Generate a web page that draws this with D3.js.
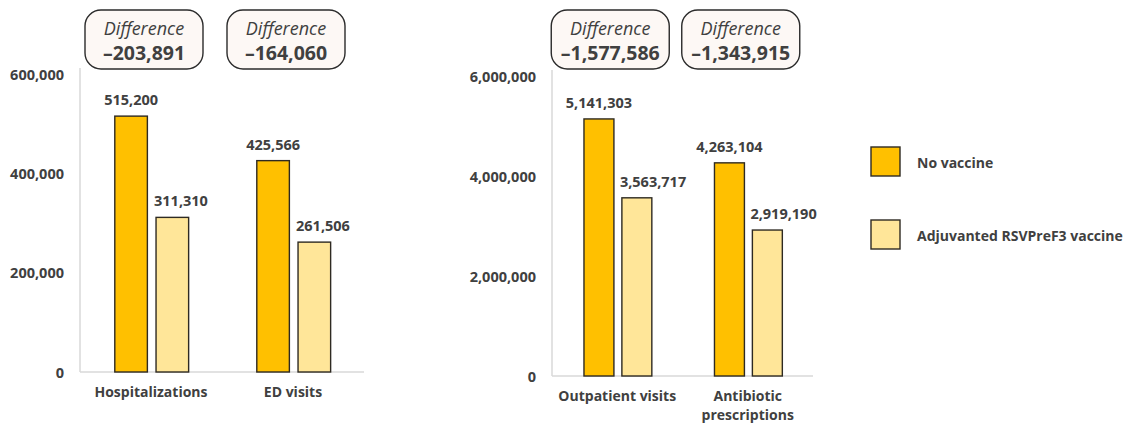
<!DOCTYPE html>
<html>
<head>
<meta charset="utf-8">
<script src="https://cdn.jsdelivr.net/npm/d3@7"></script>
<style>
  html, body { margin: 0; padding: 0; background: #ffffff; }
  svg { display: block; }
  text { font-family: "Open Sans", Lato, sans-serif; }
</style>
</head>
<body>
<svg id="chart" width="1126" height="426"></svg>
<script>
// ---- Data ----
const seriesNames = ["No vaccine", "Adjuvanted RSVPreF3 vaccine"];
const seriesColors = ["#FFC000", "#FFE699"];

const categoriesLeft = ["Hospitalizations", "ED visits"];
const noVaccineLeft = [515200, 425566];
const vaccineLeft = [311310, 261506];
const differenceLeft = [-203891, -164060];
const ticksLeft = [0, 200000, 400000, 600000];

const categoriesRight = ["Outpatient visits", "Antibiotic prescriptions"];
const noVaccineRight = [5141303, 4263104];
const vaccineRight = [3563717, 2919190];
const differenceRight = [-1577586, -1343915];
const ticksRight = [0, 2000000, 4000000, 6000000];

// ---- Drawing ----
const svg = d3.select("#chart");
const textColor = "#404040";
const fmt = d3.format(",");

function panel(opts) {
  const { categories, a, b, diffs, ticks, x0, x1, yTop, yBase, yMax, catLines } = opts;
  const g = svg.append("g");
  const x = d3.scaleBand().domain(categories).range([x0, x1]).paddingInner(0).paddingOuter(0);
  const y = d3.scaleLinear().domain([0, yMax]).range([yBase, yTop]);
  const step = x.bandwidth();
  const inner = d3.scaleBand().domain([0, 1])
    .range([step * 0.245, step * 0.765]).paddingInner(0.21).paddingOuter(0);

  // axis labels
  const axis = d3.axisLeft(y).tickValues(ticks).tickSize(0).tickPadding(16).tickFormat(fmt);
  const ag = g.append("g").attr("transform", `translate(${x0},0)`).call(axis);
  ag.select(".domain").remove();
  ag.selectAll("text")
    .attr("fill", textColor).attr("font-size", 14.5).attr("font-weight", 700)
    .attr("dy", "0.36em")
    .style("font-family", "'Open Sans', Lato, sans-serif");

  // axis lines
  g.append("line").attr("x1", x0).attr("x2", x0).attr("y1", y(yMax) - 6).attr("y2", yBase)
    .attr("stroke", "#d9d9d9").attr("stroke-width", 1.5);
  g.append("line").attr("x1", x0).attr("x2", x1).attr("y1", yBase).attr("y2", yBase)
    .attr("stroke", "#d9d9d9").attr("stroke-width", 1.5);

  const rows = categories.map((c, i) => ({ c, vals: [a[i], b[i]], diff: diffs[i] }));
  const grp = g.selectAll("g.cat").data(rows).join("g").attr("class", "cat")
    .attr("transform", d => `translate(${x(d.c)},0)`);

  grp.selectAll("rect").data(d => d.vals.map((v, k) => ({ v, k }))).join("rect")
    .attr("x", d => inner(d.k)).attr("width", inner.bandwidth())
    .attr("y", d => y(d.v)).attr("height", d => yBase - y(d.v))
    .attr("fill", d => seriesColors[d.k])
    .attr("stroke", "#2e2a22").attr("stroke-width", 1.4);

  grp.selectAll("text.val").data(d => d.vals.map((v, k) => ({ v, k }))).join("text")
    .attr("class", "val")
    .attr("x", d => d.k === 0 ? inner(d.k) + inner.bandwidth() / 2 : inner(d.k) - 2)
    .attr("y", d => y(d.v) - 11)
    .attr("text-anchor", d => d.k === 0 ? "middle" : "start")
    .attr("font-size", 14.5).attr("font-weight", 700).attr("fill", textColor)
    .text(d => fmt(d.v));

  // category labels
  grp.each(function(d) {
    const lines = catLines[d.c] || [d.c];
    const t = d3.select(this).append("text")
      .attr("text-anchor", "middle").attr("font-size", 14).attr("font-weight", 700)
      .attr("fill", textColor);
    lines.forEach((ln, i) => {
      t.append("tspan").attr("x", step / 2).attr("y", yBase + 25 + i * 19).text(ln);
    });
  });

  // difference boxes
  const bw = 118, bh = 59;
  const box = grp.append("g").attr("transform", `translate(${step / 2 - 7 - bw / 2},10)`);
  box.append("rect").attr("width", bw).attr("height", bh).attr("rx", 16).attr("ry", 16)
    .attr("fill", "#fdf8f5").attr("stroke", "#2b2b2b").attr("stroke-width", 1.4);
  box.append("text").attr("x", bw / 2).attr("y", 24.5).attr("text-anchor", "middle")
    .attr("font-size", 18).attr("font-style", "italic").attr("fill", textColor)
    .text("Difference");
  box.append("text").attr("x", bw / 2).attr("y", 50).attr("text-anchor", "middle")
    .attr("font-size", 19.5).attr("font-weight", 700).attr("fill", textColor)
    .text(d => "\u2013" + fmt(Math.abs(d.diff)));
}

panel({
  categories: categoriesLeft, a: noVaccineLeft, b: vaccineLeft, diffs: differenceLeft,
  ticks: ticksLeft, x0: 80, x1: 364, yTop: 74, yBase: 372, yMax: 600000, catLines: {}
});
panel({
  categories: categoriesRight, a: noVaccineRight, b: vaccineRight, diffs: differenceRight,
  ticks: ticksRight, x0: 552, x1: 813, yTop: 76, yBase: 376, yMax: 6000000,
  catLines: { "Antibiotic prescriptions": ["Antibiotic", "prescriptions"] }
});

// legend
const lg = svg.append("g").attr("transform", "translate(871,147)");
const li = lg.selectAll("g").data(seriesNames).join("g")
  .attr("transform", (d, i) => `translate(0,${i * 73})`);
li.append("rect").attr("width", 29).attr("height", 29)
  .attr("fill", (d, i) => seriesColors[i]).attr("stroke", "#2e2a22").attr("stroke-width", 1.4);
li.append("text").attr("x", 46).attr("y", 21)
  .attr("font-size", 14).attr("font-weight", 700).attr("fill", textColor)
  .text(d => d);
</script>
</body>
</html>
